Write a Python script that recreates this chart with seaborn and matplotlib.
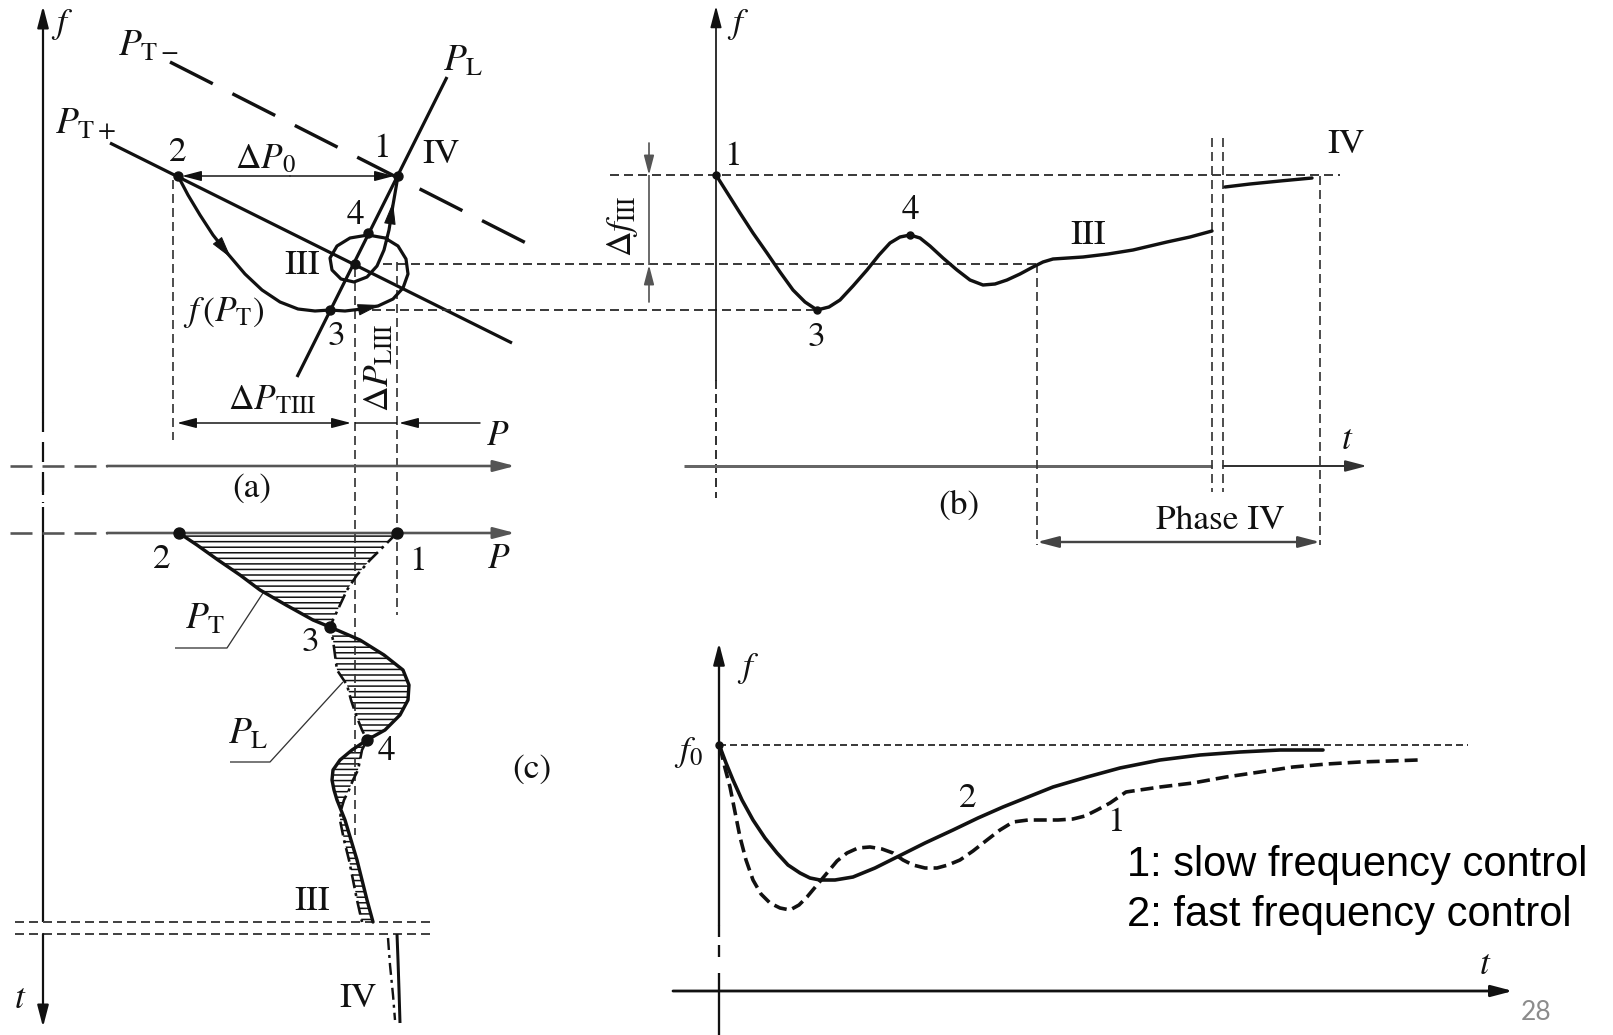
import matplotlib
matplotlib.use("Agg")
import matplotlib.pyplot as plt
import seaborn as sns

# ---------------- data (diagram coordinates, pixel space, y downward) ----------------
# panel (a): static characteristics
a_PTplus_x = [110, 512]
a_PTplus_y = [143, 343]
a_PTminus_x = [170, 530]
a_PTminus_y = [62, 245]
a_PL_x = [447, 297]
a_PL_y = [77, 377]
# trajectory f(P_T): 2 -> 3 -> loop around III -> 1
a_traj_x = [178, 188, 200, 213, 228, 245, 262, 280, 298, 315, 330, 345, 362, 378, 393, 403,
            408, 406, 398, 385, 368, 350, 337, 330, 332, 341, 354, 367, 377, 384, 389, 393, 398]
a_traj_y = [176, 195, 215, 235, 254, 274, 290, 302, 309, 311, 310, 311, 309, 306, 299, 288,
            274, 259, 246, 238, 235, 238, 246, 258, 270, 279, 282, 277, 266, 250, 230, 205, 176]
a_pts_x = [178, 398, 368, 355, 330]   # 2, 1, 4, III, 3
a_pts_y = [176, 176, 233, 264, 310]

# panel (b): frequency vs time
b_t = [716, 728, 740, 753, 767, 780, 793, 805, 817, 829, 840, 853, 867, 879, 890, 900, 910,
       920, 930, 943, 957, 970, 983, 995, 1007, 1020, 1033, 1043, 1053, 1068, 1083, 1108,
       1133, 1150, 1167, 1190, 1212]
b_f = [175, 194, 213, 233, 253, 272, 290, 302, 310, 307, 300, 286, 270, 255, 243, 237, 235,
       238, 246, 258, 270, 280, 285, 284, 280, 274, 267, 262, 259, 258, 257, 254,
       250, 246, 242, 237, 231]
b_t_iv = [1225, 1250, 1280, 1312]
b_f_iv = [187, 184, 181, 178]
b_pts_t = [716, 817, 910]
b_pts_f = [175, 310, 235]

# panel (c): power vs time (P axis horizontal, t downward)
c_y = [533, 545, 560, 575, 590, 605, 620, 627, 640, 655, 670, 685, 700, 715, 730, 740, 750,
       760, 770, 780, 790, 800, 810, 820, 840, 860, 880, 900, 922]
c_PT = [179, 197, 218, 240, 260, 286, 313, 330, 360, 384, 403, 409, 408, 400, 385, 367, 352,
        340, 333, 332, 334, 337, 341, 345, 351, 357, 362, 367, 373]
c_PL = [397, 385, 370, 357, 347, 340, 333, 330, 333, 335, 337, 347, 351, 356, 362, 367, 362,
        360, 358, 353, 349, 344, 341, 340, 344, 349, 353, 357, 362]
c_PT_iv_x = [397, 398, 399, 400]
c_PT_iv_y = [934, 960, 990, 1023]
c_PL_iv_x = [388, 390, 393, 395]
c_PL_iv_y = [938, 965, 995, 1020]
c_pts_x = [179, 397, 330, 367]
c_pts_y = [533, 533, 627, 740]

# panel (d): slow vs fast frequency control
d_t2 = [720, 726, 733, 742, 753, 765, 777, 788, 800, 810, 820, 835, 853, 875, 897, 925, 953,
        978, 1003, 1028, 1053, 1087, 1120, 1160, 1200, 1240, 1280, 1323]
d_f2 = [747, 763, 780, 800, 820, 838, 853, 865, 873, 878, 880, 880, 877, 868, 857, 843, 830,
        818, 807, 797, 787, 777, 768, 760, 755, 752, 750, 750]
d_t1 = [720, 725, 730, 735, 740, 746, 753, 761, 770, 780, 790, 799, 807, 817, 827, 837, 847,
        858, 870, 882, 893, 903, 913, 925, 937, 948, 960, 973, 987, 1000, 1013, 1028, 1043,
        1058, 1073, 1085, 1097, 1110, 1126, 1160, 1193, 1226, 1260, 1293, 1327, 1360, 1390, 1418]
d_f1 = [747, 768, 787, 812, 837, 860, 880, 894, 903, 908, 910, 905, 897, 885, 873, 861, 853,
        848, 847, 849, 853, 860, 865, 868, 868, 865, 860, 851, 840, 830, 822, 820, 820,
        820, 819, 816, 810, 803, 792, 787, 783, 777, 772, 767, 764, 762, 761, 760]
legend_lines = ["1: slow frequency control", "2: fast frequency control"]

# ---------------- style ----------------
sns.set_theme(style="white")
plt.rcParams["font.family"] = ["STIXGeneral", "Liberation Serif", "DejaVu Serif"]
plt.rcParams["mathtext.fontset"] = "stix"
plt.rcParams["lines.scale_dashes"] = False
plt.rcParams["hatch.linewidth"] = 1.1

W, H = 1613, 1035
fig = plt.figure(figsize=(W / 100, H / 100), dpi=100)
ax = fig.add_axes([0, 0, 1, 1])
ax.set_xlim(0, W)
ax.set_ylim(H, 0)
ax.axis("off")

K = "#111111"
G = "#555555"
FS = 25.5


def pt(v):
    return v * 72.0 / 100.0


def line(xs, ys, lw=1.5, color=K, dashes=None, z=2):
    ln, = ax.plot(xs, ys, color=color, lw=pt(lw), solid_capstyle="butt",
                  dash_capstyle="butt", zorder=z)
    if dashes:
        ln.set_dashes([pt(d) for d in dashes])
    return ln


def curve(xs, ys, lw=3.2, z=3):
    sns.lineplot(x=xs, y=ys, sort=False, estimator=None, ax=ax, color=K, lw=pt(lw),
                 zorder=z, solid_joinstyle="round", solid_capstyle="round")


def arrow(x0, y0, x1, y1, lw=1.5, color=K, size=20, style="-|>", hw=0.17, hl=0.65):
    ax.annotate("", xy=(x1, y1), xytext=(x0, y0),
                arrowprops=dict(arrowstyle=f"{style},head_length={hl},head_width={hw}",
                                lw=pt(lw), color=color, shrinkA=0, shrinkB=0,
                                mutation_scale=size), zorder=3)


def txt(x, y, s, size=FS, rot=0, ha="center", **kw):
    ax.text(x, y, s, fontsize=size, ha=ha, va="center", rotation=rot, color=K, **kw)


HD = [9, 5]  # helper dash pattern (px)

# ================= panel (a) =================
arrow(43, 412, 43, 6, lw=2.2)
line([43, 43], [412, 503], lw=2.2, dashes=[20, 10])
line([10, 107], [466, 466], lw=2.6, color=G, dashes=[22, 10])
arrow(107, 466, 515, 466, lw=2.6, color=G)

line(a_PTminus_x, a_PTminus_y, lw=3.4, dashes=[48, 22])
line(a_PTplus_x, a_PTplus_y, lw=3.2)
line(a_PL_x, a_PL_y, lw=3.2)
curve(a_traj_x, a_traj_y, lw=3.2)
ax.plot(a_pts_x, a_pts_y, "o", color=K, ms=pt(9), zorder=4)
# arrows on trajectory
arrow(a_traj_x[3], a_traj_y[3], a_traj_x[4] + 3, a_traj_y[4] + 4, lw=1, size=22)
arrow(a_traj_x[12], a_traj_y[12], a_traj_x[13] + 2, a_traj_y[13] - 1, lw=1, size=22)
arrow(a_traj_x[30], a_traj_y[30], a_traj_x[31], a_traj_y[31] - 3, lw=1, size=22)
# delta P0
arrow(290, 176, a_pts_x[0] + 4, 176, lw=1.5, size=18)
arrow(290, 176, a_pts_x[1] - 4, 176, lw=1.5, size=18)

# helper dashed lines
line([173, 173], [180, 440], lw=1.7, color="#333333", dashes=HD)
line([355, 355], [268, 835], lw=1.7, color="#333333", dashes=HD)
line([397, 397], [262, 615], lw=1.7, color="#333333", dashes=HD)
line([383, 1037], [264, 264], lw=1.9, color="#333333", dashes=HD)
line([372, 817], [310, 310], lw=1.9, color="#333333", dashes=HD)

# delta P_TIII / delta P_LIII
ax.annotate("", xy=(177, 423), xytext=(351, 423),
            arrowprops=dict(arrowstyle="<|-|>,head_length=0.65,head_width=0.17", lw=pt(1.5),
                            color=K, shrinkA=0, shrinkB=0, mutation_scale=18))
line([355, 397], [423, 423], lw=1.5)
arrow(480, 423, 399, 423, lw=1.5, size=18)

txt(62, 24, "$f$")
txt(148, 47, r"$P_{\mathrm{T}-}$", size=27)
txt(463, 62, r"$P_{\mathrm{L}}$", size=27)
txt(86, 124, r"$P_{\mathrm{T}+}$", size=27)
txt(178, 153, "2")
txt(265, 160, r"$\Delta P_0$")
txt(382, 149, "1")
txt(441, 155, "IV")
txt(355, 216, "4")
txt(302, 266, "III")
txt(224, 312, r"$f\,(P_{\mathrm{T}})$")
txt(336, 337, "3")
txt(272, 401, r"$\Delta P_{\mathrm{TIII}}$")
txt(380, 368, r"$\Delta P_{\mathrm{LIII}}$", rot=90)
txt(498, 437, "$P$")
txt(252, 489, "(a)")

# ================= panel (c) =================
line([43, 43], [480, 495], lw=2.2)
line([43, 43], [507, 922], lw=2.2)
line([10, 107], [533, 533], lw=2.6, color=G, dashes=[22, 10])
arrow(107, 533, 515, 533, lw=2.6, color=G)
line([15, 435], [922, 922], lw=2.0, color="#444444", dashes=HD)
line([15, 435], [934, 934], lw=2.0, color="#444444", dashes=HD)
arrow(43, 934, 43, 1027, lw=2.2)

ax.fill_betweenx(c_y, c_PT, c_PL, facecolor="none", edgecolor=K, hatch="---",
                 linewidth=0, zorder=1)
curve(c_PT, c_y, lw=3.4)
line(c_PL, c_y, lw=2.6, dashes=[14, 5, 3, 5], z=3)
line(c_PT_iv_x, c_PT_iv_y, lw=3.0)
line(c_PL_iv_x, c_PL_iv_y, lw=2.4, dashes=[12, 5, 3, 5])
ax.plot(c_pts_x, c_pts_y, "o", color=K, ms=pt(11), zorder=4)

# leader lines
line([175, 227, 263], [648, 648, 593], lw=1.3, color="#333333")
line([230, 270, 343], [762, 762, 682], lw=1.3, color="#333333")

txt(162, 560, "2")
txt(418, 562, "1")
txt(499, 560, "$P$")
txt(310, 643, "3")
txt(386, 752, "4")
txt(205, 620, r"$P_{\mathrm{T}}$", size=27)
txt(248, 735, r"$P_{\mathrm{L}}$", size=27)
txt(312, 902, "III")
txt(358, 999, "IV")
txt(20, 1000, "$t$")
txt(532, 770, "(c)")

# ================= panel (b) =================
arrow(716, 380, 716, 6, lw=1.7)
line([716, 716], [380, 498], lw=1.7, dashes=HD)
line([684, 1212], [466, 466], lw=3.0, color="#666666")
arrow(1223, 466, 1367, 466, lw=2.0, color="#333333")
line([1212, 1212], [138, 492], lw=1.7, color="#333333", dashes=HD)
line([1223, 1223], [138, 492], lw=1.7, color="#333333", dashes=HD)
line([610, 1340], [175, 175], lw=1.9, color="#333333", dashes=HD)
line([1037, 1037], [264, 545], lw=1.7, color="#333333", dashes=HD)
line([1320, 1320], [176, 545], lw=1.7, color="#333333", dashes=HD)

curve(b_t, b_f, lw=3.4)
curve(b_t_iv, b_f_iv, lw=3.4)
ax.plot(b_pts_t, b_pts_f, "o", color=K, ms=pt(7), zorder=4)

# delta f_III
line([649, 649], [175, 265], lw=1.7, color=G)
arrow(649, 143, 649, 175, lw=1.7, color=G, size=18)
arrow(649, 302, 649, 265, lw=1.7, color=G, size=18)

# Phase IV span
ax.annotate("", xy=(1037, 542), xytext=(1320, 542),
            arrowprops=dict(arrowstyle="<|-|>,head_length=0.65,head_width=0.17", lw=pt(2.4),
                            color="#444444", shrinkA=0, shrinkB=0, mutation_scale=20))

txt(738, 25, "$f$")
txt(733, 157, "1")
txt(910, 211, "4")
txt(816, 338, "3")
txt(1088, 236, "III")
txt(1346, 145, "IV")
txt(1347, 441, "$t$")
txt(959, 506, "(b)")
txt(1220, 521, "Phase IV")
txt(622, 226, r"$\Delta f_{\mathrm{III}}$", rot=90)

# ================= panel (d) =================
arrow(719, 925, 719, 643, lw=2.3)
line([719, 719], [925, 962], lw=2.3, dashes=[12, 8])
line([719, 719], [973, 1035], lw=2.3)
arrow(673, 991, 1513, 991, lw=2.8)
line([719, 1468], [745, 745], lw=1.9, color="#333333", dashes=[7, 4])

curve(d_t2, d_f2, lw=3.6)
line(d_t1, d_f1, lw=3.6, dashes=[13, 6], z=3)
ax.plot([719], [745], "o", color=K, ms=pt(7), zorder=4)

txt(748, 668, "$f$")
txt(688, 752, "$f_0$")
txt(968, 799, "2")
txt(1116, 823, "1")
txt(1485, 966, "$t$")

for i, s in enumerate(legend_lines):
    ax.text(1127, 865 + 50 * i, s, fontsize=30, family=["Liberation Sans", "DejaVu Sans"],
            ha="left", va="center", color="black")
ax.text(1536, 1013, "28", fontsize=19, family=["Lato", "DejaVu Sans"], ha="center",
        va="center", color="#8c8c8c")

fig.savefig("out.png", dpi=100)
